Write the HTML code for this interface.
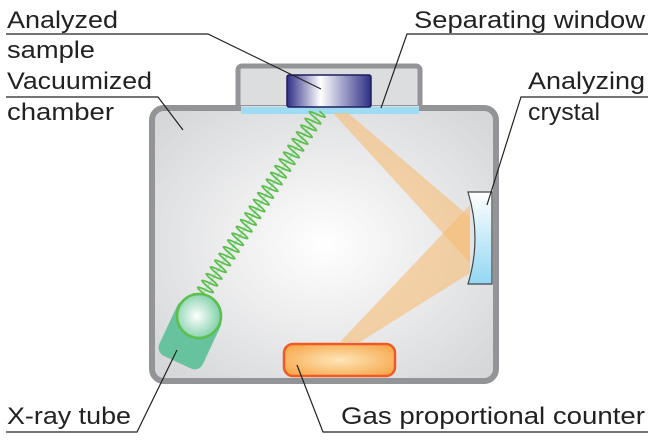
<!DOCTYPE html>
<html><head><meta charset="utf-8"><style>html,body{margin:0;padding:0;background:#fff}svg{display:block}</style></head>
<body>
<svg width="650" height="445" viewBox="0 0 650 445" xmlns="http://www.w3.org/2000/svg">
<defs>
<radialGradient id="bg" cx="0.5" cy="0.5" r="0.65">
<stop offset="0" stop-color="#ffffff"/><stop offset="1" stop-color="#d6d7d9"/></radialGradient>
<linearGradient id="smp" x1="0" x2="1" y1="0" y2="0">
<stop offset="0" stop-color="#2e2e86"/><stop offset="0.4" stop-color="#ffffff"/><stop offset="1" stop-color="#2e2e86"/></linearGradient>
<linearGradient id="cry" x1="0" x2="0" y1="0" y2="1">
<stop offset="0" stop-color="#ffffff"/><stop offset="1" stop-color="#92d7f3"/></linearGradient>
<radialGradient id="cnt" cx="0.5" cy="0.5" r="0.6">
<stop offset="0" stop-color="#fde6b8"/><stop offset="1" stop-color="#f8a94f"/></radialGradient>
<radialGradient id="ball" cx="0.45" cy="0.5" r="0.55">
<stop offset="0" stop-color="#ffffff"/><stop offset="1" stop-color="#7ed0a8"/></radialGradient>
</defs>
<rect x="238" y="66" width="182" height="50" rx="4" fill="#dcdddf" stroke="#939497" stroke-width="5"/>
<rect x="152" y="108" width="344" height="273" rx="12" fill="url(#bg)" stroke="#939497" stroke-width="6"/>
<rect x="241" y="106" width="178" height="8" fill="#dcdddf"/>
<rect x="241" y="107" width="178" height="7" fill="#9edcf4"/>
<rect x="287" y="75" width="84" height="32" rx="2" fill="url(#smp)" stroke="#1f1f5e" stroke-width="1.5"/>
<polygon points="333,113 348,113 470,217 470,263" fill="#f6bd75" opacity="0.6"/>
<polygon points="470,205 470,273 360,342 340,342" fill="#f6bd75" opacity="0.6"/>
<path d="M468,192 L492,192 L492,284 L468,284 Q482,238 468,192 Z" fill="url(#cry)" stroke="#444" stroke-width="1.2"/>
<rect x="284" y="344" width="111" height="32" rx="9" fill="url(#cnt)" stroke="#ee5a24" stroke-width="2.5"/>
<g transform="translate(199,300) rotate(-57.5)">
<line x1="0" y1="0" x2="225" y2="0" stroke="#b8e2cc" stroke-width="2"/>
<path fill="none" stroke="#5cbf4c" stroke-width="1.8" d="M0,0 q2,-16 4,0 t4,0 t4,0 t4,0 t4,0 t4,0 t4,0 t4,0 t4,0 t4,0 t4,0 t4,0 t4,0 t4,0 t4,0 t4,0 t4,0 t4,0 t4,0 t4,0 t4,0 t4,0 t4,0 t4,0 t4,0 t4,0 t4,0 t4,0 t4,0 t4,0 t4,0 t4,0 t4,0 t4,0 t4,0 t4,0 t4,0 t4,0 t4,0 t4,0 t4,0 t4,0 t4,0 t4,0 t4,0 t4,0 t4,0 t4,0 t4,0 t4,0 t4,0 t4,0 t4,0 t4,0 t4,0 t4,0"/>
</g>
<rect x="166" y="305" width="48" height="60" rx="9" fill="#67c39e" transform="rotate(25 190 335)"/>
<circle cx="199" cy="316" r="22" fill="url(#ball)" stroke="#5cbf4c" stroke-width="2.5"/>
<g fill="none" stroke="#222" stroke-width="1.2">
<polyline points="6,34 208,34 321,89"/>
<polyline points="648,34 407,34 381,108"/>
<polyline points="6,97 158,97 183,130"/>
<polyline points="648,97 521,97 487,205"/>
<polyline points="6,432 137,432 177,350"/>
<polyline points="648,432 323,432 297,365"/>
</g>
<g font-family="Liberation Sans, sans-serif" font-size="24" fill="#222">
<text x="7" y="28" textLength="111" lengthAdjust="spacingAndGlyphs">Analyzed</text>
<text x="7" y="58" textLength="88" lengthAdjust="spacingAndGlyphs">sample</text>
<text x="7" y="89" textLength="145" lengthAdjust="spacingAndGlyphs">Vacuumized</text>
<text x="7" y="120" textLength="107" lengthAdjust="spacingAndGlyphs">chamber</text>
<text x="414" y="28" textLength="231" lengthAdjust="spacingAndGlyphs">Separating window</text>
<text x="528" y="89" textLength="117" lengthAdjust="spacingAndGlyphs">Analyzing</text>
<text x="528" y="120" textLength="72" lengthAdjust="spacingAndGlyphs">crystal</text>
<text x="7" y="424" textLength="124" lengthAdjust="spacingAndGlyphs">X-ray tube</text>
<text x="341" y="424" textLength="304" lengthAdjust="spacingAndGlyphs">Gas proportional counter</text>
</g>
</svg>
</body></html>
